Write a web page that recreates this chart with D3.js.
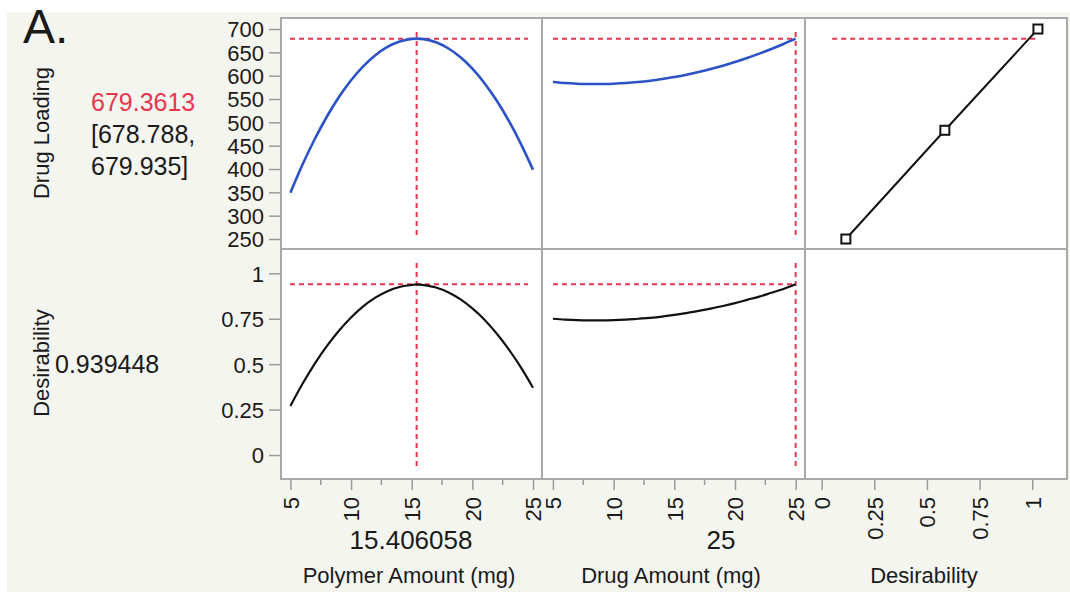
<!DOCTYPE html>
<html>
<head>
<meta charset="utf-8">
<script src="https://cdn.jsdelivr.net/npm/d3@7"></script>
<style>
  html, body { margin: 0; padding: 0; background: #ffffff; }
  svg { display: block; }
  text { font-family: "Liberation Sans", Arial, Helvetica, sans-serif; fill: #1a1a1a; }
</style>
</head>
<body>
<svg id="chart" width="1070" height="592"></svg>
<script>
// Prediction profiler: Drug Loading and Desirability vs. the two factors

// Factor grids and profile traces
const polymerAmount    = [5, 6, 7, 8, 9, 10, 11, 12, 13, 14, 15, 15.406058, 16, 17, 18, 19, 20, 21, 22, 23, 24, 25];
const loadingVsPolymer = [349.0, 409.5, 463.8, 512.0, 554.2, 590.2, 620.1, 644.0, 661.7, 673.3, 678.9, 679.3613,
                          678.3, 671.6, 658.8, 639.9, 615.0, 583.9, 546.7, 503.4, 454.0, 398.5];
const desirVsPolymer   = [0.270, 0.392, 0.502, 0.599, 0.684, 0.757, 0.818, 0.866, 0.902, 0.925, 0.936, 0.939448,
                          0.935, 0.922, 0.896, 0.858, 0.807, 0.745, 0.669, 0.582, 0.482, 0.370];

const drugAmount       = [5, 6, 7, 8, 9, 10, 11, 12, 13, 14, 15, 16, 17, 18, 19, 20, 21, 22, 23, 24, 25];
const loadingVsDrug    = [586.4, 584.2, 582.8, 582.1, 582.1, 582.8, 584.2, 586.4, 589.2, 592.8, 597.1,
                          602.1, 607.9, 614.3, 621.5, 629.3, 637.9, 647.2, 657.3, 668.0, 679.3613];
const desirVsDrug      = [0.750, 0.745, 0.742, 0.741, 0.741, 0.742, 0.745, 0.750, 0.755, 0.762, 0.771,
                          0.781, 0.793, 0.806, 0.820, 0.836, 0.854, 0.872, 0.893, 0.914, 0.939448];

// Desirability function for Drug Loading
const desirLevels      = [0.115, 0.585, 1.027];
const loadingLevels    = [250, 483, 700];

// Current settings and predictions
const polymerSetting = 15.406058;
const drugSetting    = 25;
const loadingPred    = 679.3613;
const loadingCI      = [678.788, 679.935];
const desirPred      = 0.939448;

// Tick labels
const loadingTicks = [250, 300, 350, 400, 450, 500, 550, 600, 650, 700];
const desirTicks   = [0, 0.25, 0.5, 0.75, 1];
const amountTicks  = [5, 10, 15, 20, 25];
const amountMinor  = [7.5, 12.5, 17.5, 22.5];

const RED = "#e5384f", BLUE = "#2b52c6", GRID = "#a9a9a9", TICK = "#9a9a9a";

const svg = d3.select("#chart");

// Backdrop
svg.append("rect").attr("x", 7).attr("y", 12).attr("width", 1063).attr("height", 580)
  .attr("fill", "#f5f5f0");

// Panel layout
const cols = [[281, 542], [542, 805], [805, 1067]];
const rows = [[18, 249], [249, 479]];

const yLoad  = d3.scaleLinear().domain([228.6, 723.6]).range([rows[0][1], rows[0][0]]);
const yDesir = d3.scaleLinear().domain([-0.132, 1.134]).range([rows[1][1], rows[1][0]]);
const xPoly  = d3.scaleLinear().domain([4.225, 25.74]).range(cols[0]);
const xDrug  = d3.scaleLinear().domain([4.10, 25.77]).range(cols[1]);
const xDes   = d3.scaleLinear().domain([-0.079, 1.165]).range(cols[2]);

// White plotting panels
rows.forEach(r => cols.forEach(c => {
  svg.append("rect").attr("x", c[0]).attr("y", r[0])
    .attr("width", c[1] - c[0]).attr("height", r[1] - r[0]).attr("fill", "#ffffff");
}));

// Axes styling
function styleAxis(g) {
  g.select(".domain").remove();
  g.selectAll(".tick line").attr("stroke", TICK).attr("stroke-width", 1.5);
  g.selectAll(".tick text").attr("font-size", 22).attr("fill", "#1a1a1a")
    .attr("font-family", "Liberation Sans, Arial, sans-serif");
}

// Y axes
svg.append("g").attr("transform", `translate(${cols[0][0]},0)`)
  .call(d3.axisLeft(yLoad).tickValues(loadingTicks).tickSize(12).tickPadding(5).tickFormat(d3.format("d")))
  .call(styleAxis)
  .selectAll(".tick text").attr("dy", "0.36em");
svg.append("g").attr("transform", `translate(${cols[0][0]},0)`)
  .call(d3.axisLeft(yDesir).tickValues(desirTicks).tickSize(12).tickPadding(5).tickFormat(d => String(d)))
  .call(styleAxis)
  .selectAll(".tick text").attr("dy", "0.36em");

// X axes (rotated labels)
function xAxis(scale, ticks, minor, fmt) {
  const g = svg.append("g").attr("transform", `translate(0,${rows[1][1]})`);
  g.call(d3.axisBottom(scale).tickValues(ticks).tickSize(11).tickFormat(fmt)).call(styleAxis);
  g.selectAll(".tick text")
    .attr("text-anchor", "end")
    .attr("transform", "translate(0,18) rotate(-90)")
    .attr("x", 0).attr("y", 0).attr("dy", "0.36em");
  if (minor) {
    g.selectAll(".minor").data(minor).join("line")
      .attr("x1", d => scale(d)).attr("x2", d => scale(d))
      .attr("y1", 0).attr("y2", 6).attr("stroke", TICK).attr("stroke-width", 1.5);
  }
}
xAxis(xPoly, amountTicks, amountMinor, d3.format("d"));
xAxis(xDrug, amountTicks, amountMinor, d3.format("d"));
xAxis(xDes, desirTicks, null, d => String(d));

// Reference (crosshair) lines
function hLine(x1, x2, y) {
  svg.append("line").attr("x1", x1).attr("x2", x2).attr("y1", y).attr("y2", y)
    .attr("stroke", RED).attr("stroke-width", 2).attr("stroke-dasharray", "5,4");
}
function vLine(x, row) {
  svg.append("line").attr("x1", x).attr("x2", x).attr("y1", row[0] + 14).attr("y2", row[1] - 10)
    .attr("stroke", RED).attr("stroke-width", 2).attr("stroke-dasharray", "5,4");
}

// Horizontal lines at predicted values
hLine(cols[0][0] + 9, cols[0][1] - 14, yLoad(loadingPred));
hLine(cols[1][0] + 11, xDrug(drugSetting), yLoad(loadingPred));
hLine(xDes(0.05), xDes(desirLevels[2]), yLoad(loadingPred));
hLine(cols[0][0] + 9, cols[0][1] - 14, yDesir(desirPred));
hLine(cols[1][0] + 11, xDrug(drugSetting), yDesir(desirPred));
// Vertical lines at factor settings
vLine(xPoly(polymerSetting), rows[0]);
vLine(xPoly(polymerSetting), rows[1]);
vLine(xDrug(drugSetting), rows[0]);
vLine(xDrug(drugSetting), rows[1]);

// Profile traces
const lineGen = (xs, ys, xScale, yScale) =>
  d3.line().x((d, i) => xScale(xs[i])).y((d, i) => yScale(ys[i])).curve(d3.curveMonotoneX)(xs);

svg.append("path").attr("d", lineGen(polymerAmount, loadingVsPolymer, xPoly, yLoad))
  .attr("fill", "none").attr("stroke", BLUE).attr("stroke-width", 2.6);
svg.append("path").attr("d", lineGen(drugAmount, loadingVsDrug, xDrug, yLoad))
  .attr("fill", "none").attr("stroke", BLUE).attr("stroke-width", 2.6);
svg.append("path").attr("d", lineGen(polymerAmount, desirVsPolymer, xPoly, yDesir))
  .attr("fill", "none").attr("stroke", "#111").attr("stroke-width", 2.2);
svg.append("path").attr("d", lineGen(drugAmount, desirVsDrug, xDrug, yDesir))
  .attr("fill", "none").attr("stroke", "#111").attr("stroke-width", 2.2);

// Desirability function
svg.append("path")
  .attr("d", d3.line().x((d, i) => xDes(desirLevels[i])).y((d, i) => yLoad(loadingLevels[i]))(desirLevels))
  .attr("fill", "none").attr("stroke", "#111").attr("stroke-width", 2);
svg.selectAll(".handle").data(desirLevels).join("rect")
  .attr("x", (d) => xDes(d) - 4.5).attr("y", (d, i) => yLoad(loadingLevels[i]) - 4.5)
  .attr("width", 9).attr("height", 9)
  .attr("fill", "#fff").attr("stroke", "#111").attr("stroke-width", 2);

// Panel borders
rows.forEach(r => cols.forEach(c => {
  svg.append("rect").attr("x", c[0]).attr("y", r[0])
    .attr("width", c[1] - c[0]).attr("height", r[1] - r[0])
    .attr("fill", "none").attr("stroke", GRID).attr("stroke-width", 2);
}));

// Panel letter
svg.append("text").attr("x", 23).attr("y", 43).attr("font-size", 48).text("A.");

// Row titles and current values
svg.append("text").attr("transform", "translate(49,133) rotate(-90)")
  .attr("text-anchor", "middle").attr("font-size", 22).text("Drug Loading");
svg.append("text").attr("transform", "translate(49,363) rotate(-90)")
  .attr("text-anchor", "middle").attr("font-size", 22).text("Desirability");

svg.append("text").attr("x", 91).attr("y", 111).attr("font-size", 25)
  .style("fill", RED).text(loadingPred.toFixed(4));
svg.append("text").attr("x", 91).attr("y", 143).attr("font-size", 25)
  .text(`[${loadingCI[0].toFixed(3)},`);
svg.append("text").attr("x", 91).attr("y", 175).attr("font-size", 25)
  .text(`${loadingCI[1].toFixed(3)}]`);
svg.append("text").attr("x", 55).attr("y", 373).attr("font-size", 25)
  .text(String(desirPred));

// Factor settings and axis titles
svg.append("text").attr("x", 411).attr("y", 549).attr("text-anchor", "middle")
  .attr("font-size", 26).text(String(polymerSetting));
svg.append("text").attr("x", 721).attr("y", 549).attr("text-anchor", "middle")
  .attr("font-size", 26).text(String(drugSetting));
svg.append("text").attr("x", 409).attr("y", 583).attr("text-anchor", "middle")
  .attr("font-size", 22).text("Polymer Amount (mg)");
svg.append("text").attr("x", 671).attr("y", 583).attr("text-anchor", "middle")
  .attr("font-size", 22).text("Drug Amount (mg)");
svg.append("text").attr("x", 924).attr("y", 583).attr("text-anchor", "middle")
  .attr("font-size", 22).text("Desirability");
</script>
</body>
</html>
